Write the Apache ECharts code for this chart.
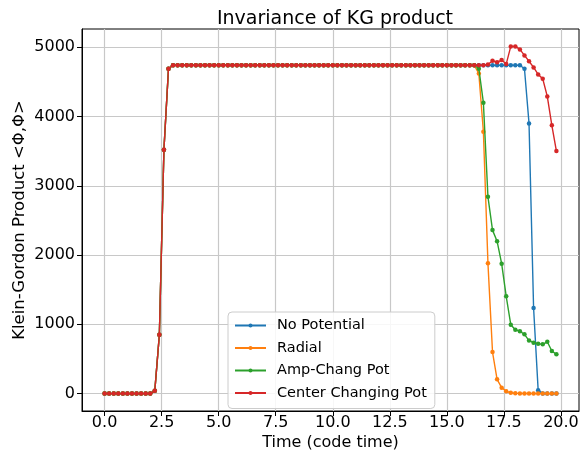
<!DOCTYPE html>
<html>
<head>
<meta charset="utf-8">
<script src="https://cdn.jsdelivr.net/npm/echarts@6/dist/echarts.min.js"></script>
<style>
html,body{margin:0;padding:0;background:#fff;}
#chart{width:587px;height:451px;}
</style>
</head>
<body>
<div id="chart"></div>
<script>
// ---- data ----
const titleText = 'Invariance of KG product';
const xAxisName = 'Time (code time)';
const yAxisName = 'Klein-Gordon Product <Φ,Φ>';
const seriesNames = ['No Potential', 'Radial', 'Amp-Chang Pot', 'Center Changing Pot'];
const xTicks = [0, 2.5, 5, 7.5, 10, 12.5, 15, 17.5, 20];
const yTicks = [0, 1000, 2000, 3000, 4000, 5000];

const time = [
  0.0, 0.2, 0.4, 0.6, 0.8, 1.0, 1.2, 1.4, 1.6, 1.8,
  2.0, 2.2, 2.4, 2.6, 2.8, 3.0, 3.2, 3.4, 3.6, 3.8,
  4.0, 4.2, 4.4, 4.6, 4.8, 5.0, 5.2, 5.4, 5.6, 5.8,
  6.0, 6.2, 6.4, 6.6, 6.8, 7.0, 7.2, 7.4, 7.6, 7.8,
  8.0, 8.2, 8.4, 8.6, 8.8, 9.0, 9.2, 9.4, 9.6, 9.8,
  10.0, 10.2, 10.4, 10.6, 10.8, 11.0, 11.2, 11.4, 11.6, 11.8,
  12.0, 12.2, 12.4, 12.6, 12.8, 13.0, 13.2, 13.4, 13.6, 13.8,
  14.0, 14.2, 14.4, 14.6, 14.8, 15.0, 15.2, 15.4, 15.6, 15.8,
  16.0, 16.2, 16.4, 16.6, 16.8, 17.0, 17.2, 17.4, 17.6, 17.8,
  18.0, 18.2, 18.4, 18.6, 18.8, 19.0, 19.2, 19.4, 19.6, 19.8
];

const noPotential = [
  0, 0, 0, 0, 0, 0, 0, 0, 0, 0,
  0, 40, 850, 3520, 4690, 4740, 4740, 4740, 4740, 4740,
  4740, 4740, 4740, 4740, 4740, 4740, 4740, 4740, 4740, 4740,
  4740, 4740, 4740, 4740, 4740, 4740, 4740, 4740, 4740, 4740,
  4740, 4740, 4740, 4740, 4740, 4740, 4740, 4740, 4740, 4740,
  4740, 4740, 4740, 4740, 4740, 4740, 4740, 4740, 4740, 4740,
  4740, 4740, 4740, 4740, 4740, 4740, 4740, 4740, 4740, 4740,
  4740, 4740, 4740, 4740, 4740, 4740, 4740, 4740, 4740, 4740,
  4740, 4740, 4740, 4740, 4740, 4740, 4740, 4740, 4740, 4740,
  4740, 4740, 4690, 3900, 1235, 50, 0, 0, 0, 0
];

const radial = [
  0, 0, 0, 0, 0, 0, 0, 0, 0, 0,
  0, 40, 850, 3520, 4690, 4740, 4740, 4740, 4740, 4740,
  4740, 4740, 4740, 4740, 4740, 4740, 4740, 4740, 4740, 4740,
  4740, 4740, 4740, 4740, 4740, 4740, 4740, 4740, 4740, 4740,
  4740, 4740, 4740, 4740, 4740, 4740, 4740, 4740, 4740, 4740,
  4740, 4740, 4740, 4740, 4740, 4740, 4740, 4740, 4740, 4740,
  4740, 4740, 4740, 4740, 4740, 4740, 4740, 4740, 4740, 4740,
  4740, 4740, 4740, 4740, 4740, 4740, 4740, 4740, 4740, 4740,
  4740, 4740, 4620, 3780, 1880, 600, 206, 86, 33, 12,
  5, 3, 2, 1, 1, 0, 0, 0, 0, 0
];

const ampChangPot = [
  0, 0, 0, 0, 0, 0, 0, 0, 0, 0,
  0, 40, 850, 3520, 4690, 4740, 4740, 4740, 4740, 4740,
  4740, 4740, 4740, 4740, 4740, 4740, 4740, 4740, 4740, 4740,
  4740, 4740, 4740, 4740, 4740, 4740, 4740, 4740, 4740, 4740,
  4740, 4740, 4740, 4740, 4740, 4740, 4740, 4740, 4740, 4740,
  4740, 4740, 4740, 4740, 4740, 4740, 4740, 4740, 4740, 4740,
  4740, 4740, 4740, 4740, 4740, 4740, 4740, 4740, 4740, 4740,
  4740, 4740, 4740, 4740, 4740, 4740, 4740, 4740, 4740, 4740,
  4740, 4740, 4690, 4200, 2840, 2360, 2200, 1876, 1404, 995,
  923, 900, 856, 765, 735, 721, 711, 748, 615, 567
];

const centerChangingPot = [
  0, 0, 0, 0, 0, 0, 0, 0, 0, 0,
  0, 40, 850, 3520, 4690, 4740, 4740, 4740, 4740, 4740,
  4740, 4740, 4740, 4740, 4740, 4740, 4740, 4740, 4740, 4740,
  4740, 4740, 4740, 4740, 4740, 4740, 4740, 4740, 4740, 4740,
  4740, 4740, 4740, 4740, 4740, 4740, 4740, 4740, 4740, 4740,
  4740, 4740, 4740, 4740, 4740, 4740, 4740, 4740, 4740, 4740,
  4740, 4740, 4740, 4740, 4740, 4740, 4740, 4740, 4740, 4740,
  4740, 4740, 4740, 4740, 4740, 4740, 4740, 4740, 4740, 4740,
  4740, 4740, 4740, 4740, 4750, 4805, 4783, 4815, 4757, 5012,
  5012, 4968, 4882, 4798, 4708, 4608, 4545, 4290, 3872, 3501
];

const seriesValues = [noPotential, radial, ampChangPot, centerChangingPot];
const colors = ['#1f77b4', '#ff7f0e', '#2ca02c', '#d62728'];

// ---- chart ----
const font = 'DejaVu Sans';
const chart = echarts.init(document.getElementById('chart'), null, {renderer: 'canvas'});

const series = seriesNames.map((name, k) => ({
  name: name,
  type: 'line',
  data: time.map((t, i) => [t, seriesValues[k][i]]),
  symbol: 'circle',
  symbolSize: 4.5,
  showSymbol: true,
  lineStyle: {width: 1.4, color: colors[k]},
  itemStyle: {color: colors[k]},
  emphasis: {disabled: true},
  z: 2 + k
}));

chart.setOption({
  animation: false,
  backgroundColor: '#ffffff',
  color: colors,
  title: {
    text: titleText,
    left: 330, top: 5,
    textAlign: 'center',
    textStyle: {fontFamily: font, fontSize: 19, fontWeight: 'normal', color: '#000'}
  },
  grid: {
    left: 82, right: 8, top: 29, bottom: 40,
    show: true, borderColor: '#000', borderWidth: 1, backgroundColor: 'transparent',
    containLabel: false,
    outerBoundsMode: 'none'
  },
  legend: {
    orient: 'vertical',
    left: 228, top: 312,
    data: seriesNames,
    itemWidth: 31, itemHeight: 5, itemGap: 7.5,
    padding: [6, 8, 8, 6],
    backgroundColor: 'rgba(255,255,255,0.85)',
    borderColor: '#cccccc', borderWidth: 1, borderRadius: 4,
    textStyle: {fontFamily: font, fontSize: 14.5, color: '#000', padding: [0, 0, 0, 6]}
  },
  xAxis: {
    type: 'value',
    min: -0.99, max: 20.79,
    name: xAxisName,
    nameLocation: 'middle',
    nameGap: 24,
    nameMoveOverlap: false,
    nameTextStyle: {fontFamily: font, fontSize: 16, color: '#000'},
    axisLine: {show: true, onZero: false, lineStyle: {color: '#000', width: 1}},
    axisTick: {show: true, length: 5, customValues: xTicks, lineStyle: {color: '#000', width: 1}},
    axisLabel: {customValues: xTicks, margin: 4, fontFamily: font, fontSize: 16, color: '#000',
      formatter: v => Number(v).toFixed(1)},
    splitLine: {show: true, lineStyle: {color: '#c8c8c8', width: 1.2}}
  },
  yAxis: {
    type: 'value',
    min: -251, max: 5263,
    name: yAxisName,
    nameLocation: 'middle',
    nameGap: 54,
    nameMoveOverlap: false,
    nameTextStyle: {fontFamily: font, fontSize: 16.5, color: '#000'},
    axisLine: {show: true, onZero: false, lineStyle: {color: '#000', width: 1}},
    axisTick: {show: true, length: 5, customValues: yTicks, lineStyle: {color: '#000', width: 1}},
    axisLabel: {customValues: yTicks, margin: 7, fontFamily: font, fontSize: 16, color: '#000',
      formatter: v => String(Math.round(v))},
    splitLine: {show: true, lineStyle: {color: '#c8c8c8', width: 1.2}}
  },
  series: series
});
</script>
</body>
</html>
